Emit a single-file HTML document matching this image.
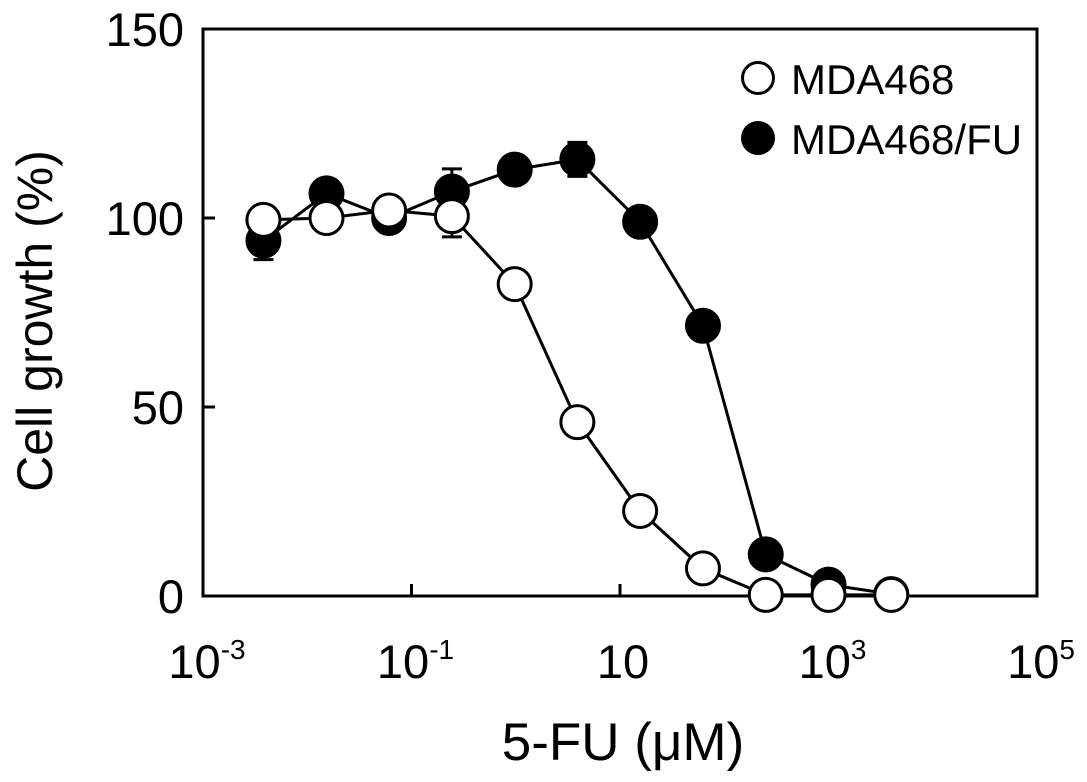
<!DOCTYPE html>
<html><head><meta charset="utf-8"><style>
body{margin:0;background:#fff}
text{font-family:"Liberation Sans",Arial,sans-serif;fill:#000}
</style></head><body>
<svg id="chart" width="1087" height="777" xmlns="http://www.w3.org/2000/svg">
<g id="axes"></g><g id="plot"></g><g id="legend"></g>
</svg>
<script>
const doses = [0.0038, 0.0153, 0.061, 0.244, 0.977, 3.9, 15.6, 62.5, 250, 1000, 4000];
const mda468 = [99.5, 100, 102, 100.5, 82.5, 46, 22.5, 7.3, 0.3, 0.3, 0.3];
const mda468fu = [94, 106.5, 100, 107, 112.8, 115.5, 99, 71.5, 11, 3, 0.5];
const errDose = [0.0038, 0.244, 3.9];
const errLow = [89, 95, 111];
const errHigh = [99, 113, 120];
const yTicks = [0, 50, 100, 150];
const xTickExp = [-3, -1, 1, 3, 5];

const L=203, R=1037, T=29, B=596;
const xS = v => L + (Math.log10(v) + 3) / 8 * (R - L);
const yS = v => B - v / 150 * (B - T);
const NS = "http://www.w3.org/2000/svg";
const svg = document.getElementById('chart');
function mk(tag, attrs, parent, txt){const e=document.createElementNS(NS,tag);for(const k in attrs)e.setAttribute(k,attrs[k]);if(txt!==undefined)e.textContent=txt;parent.appendChild(e);return e;}
const axes=document.getElementById('axes'), plot=document.getElementById('plot'), leg=document.getElementById('legend');

const frame=mk('rect',{x:L,y:T,width:R-L,height:B-T,fill:'none',stroke:'#000','stroke-width':3},axes);



yTicks.forEach(t=>{
  const y=yS(t);
  const tk=mk('line',{x1:L,x2:L+12,y1:y,y2:y,stroke:'#000','stroke-width':3},axes);
  
  
  const lb=mk('text',{x:184,y:y+17,'text-anchor':'end','font-size':47},axes,String(t));
  
  
});
xTickExp.forEach(e=>{
  const x=xS(Math.pow(10,e));
  const tk=mk('line',{x1:x,x2:x,y1:B,y2:B-12,stroke:'#000','stroke-width':3},axes);
  
  
  let lb;
  if(e===1){lb=mk('text',{x:x+3,y:678,'text-anchor':'middle','font-size':47},axes,'10');}
  else{
    lb=mk('text',{x:x+4,y:678,'text-anchor':'middle','font-size':47},axes,'10');
    mk('tspan',{dy:-19,'font-size':28},lb,String(e));
  }
  
  
});
const xt=mk('text',{x:623,y:760,'text-anchor':'middle','font-size':53},axes,'5-FU (μM)');


const yt=mk('text',{x:0,y:0,'text-anchor':'middle','font-size':50,transform:'translate(52,321) rotate(-90)'},axes,'Cell growth (%)');



errDose.forEach((d,i)=>{
  const x=xS(d);
  const g=mk('g',{stroke:'#000','stroke-width':3},plot);
  
  
  mk('line',{x1:x,x2:x,y1:yS(errLow[i]),y2:yS(errHigh[i])},g);
  mk('line',{x1:x-10,x2:x+10,y1:yS(errLow[i]),y2:yS(errLow[i])},g);
  mk('line',{x1:x-10,x2:x+10,y1:yS(errHigh[i]),y2:yS(errHigh[i])},g);
});

function series(vals,fill,name){
  const pts=doses.map((d,i)=>xS(d)+','+yS(vals[i])).join(' ');
  const ln=mk('polyline',{points:pts,fill:'none',stroke:'#000','stroke-width':3},plot);
  
  
  doses.forEach((d,i)=>{
    const c=mk('circle',{cx:xS(d),cy:yS(vals[i]),r:16.5,fill:fill,stroke:'#000','stroke-width':3},plot);
    
    
  });
}
series(mda468fu,'#000','mda468-fu');
series(mda468,'#fff','mda468');

const l1=mk('circle',{cx:758,cy:78,r:15.5,fill:'#fff',stroke:'#000','stroke-width':3},leg);


const t1=mk('text',{x:791,y:94,'font-size':42},leg,'MDA468');


const l2=mk('circle',{cx:758,cy:138,r:17,fill:'#000'},leg);


const t2=mk('text',{x:791,y:154,'font-size':42},leg,'MDA468/FU');


</script>
</body></html>
